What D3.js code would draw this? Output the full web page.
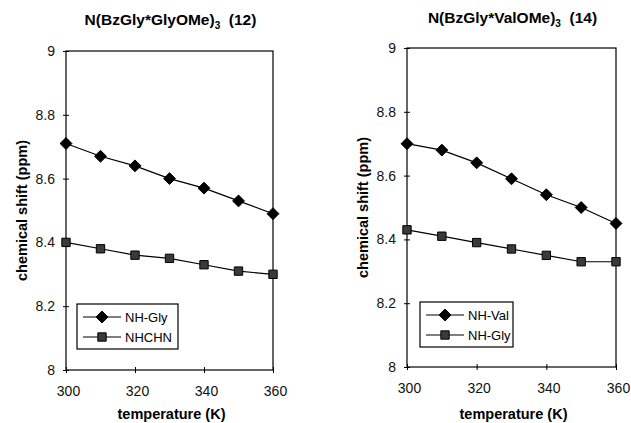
<!DOCTYPE html>
<html>
<head>
<meta charset="utf-8">
<script src="https://cdn.jsdelivr.net/npm/d3@7"></script>
<style>
  body { margin: 0; background: #fff; }
  svg { font-family: "Liberation Sans", Arial, sans-serif; }
  .tick text { font-size: 14px; fill: #111; }
</style>
</head>
<body>
<div id="chart"></div>
<script>
var temps = [300, 310, 320, 330, 340, 350, 360];

// panel 12: N(BzGly*GlyOMe)3
var glyNH = [8.71, 8.67, 8.64, 8.60, 8.57, 8.53, 8.49];
var glyNHCHN = [8.40, 8.38, 8.36, 8.35, 8.33, 8.31, 8.30];

// panel 14: N(BzGly*ValOMe)3
var valNH = [8.70, 8.68, 8.64, 8.59, 8.54, 8.50, 8.45];
var valNHGly = [8.43, 8.41, 8.39, 8.37, 8.35, 8.33, 8.33];

var xTicks = [300, 320, 340, 360];
var yTicks = [8, 8.2, 8.4, 8.6, 8.8, 9];

var w_width = 631, w_height = 423;

var svg = d3.select("#chart").append("svg")
    .attr("width", w_width).attr("height", w_height);

function panel(opt) {
  var x = d3.scaleLinear().domain([300, 360]).range([opt.left, opt.right]),
      y = d3.scaleLinear().domain([8, 9]).range([opt.bottom, opt.top]);

  var g = svg.append("g");

  // frame
  g.append("rect")
      .attr("x", opt.left).attr("y", opt.top)
      .attr("width", opt.right - opt.left).attr("height", opt.bottom - opt.top)
      .attr("fill", "none").attr("stroke", "#000").attr("stroke-width", 1.2);

  var yAxis = d3.axisLeft(y).tickValues(yTicks).tickSizeInner(3).tickSizeOuter(0)
      .tickPadding(8).tickFormat(d3.format("~g"));
  var ya = g.append("g")
      .attr("transform", "translate(" + opt.left + ",0)")
      .call(yAxis)
      .call(function(s) { s.select(".domain").remove(); });
  ya.selectAll(".tick line").attr("x2", -3).attr("x1", 3);

  var xAxis = d3.axisBottom(x).tickValues(xTicks).tickSizeInner(3).tickSizeOuter(0).tickPadding(13);
  var xa = g.append("g")
      .attr("transform", "translate(0," + opt.bottom + ")")
      .call(xAxis)
      .call(function(s) { s.select(".domain").remove(); });
  xa.selectAll(".tick line").attr("y1", -3).attr("y2", 3);
  xa.selectAll(".tick text").attr("dx", 2);

  // titles
  var t = g.append("text")
      .attr("x", (opt.left + opt.right) / 2 + 1).attr("y", opt.titleY)
      .attr("text-anchor", "middle")
      .style("font-size", "15.5px").style("font-weight", "bold");
  t.append("tspan").text(opt.titleA);
  t.append("tspan").text("3").attr("dy", 4).style("font-size", "10px");
  t.append("tspan").text("\u00a0 " + opt.titleB).attr("dy", -4);

  g.append("text")
      .attr("x", (opt.left + opt.right) / 2 + 2).attr("y", 419)
      .attr("text-anchor", "middle")
      .style("font-size", "14.5px").style("font-weight", "bold")
      .text("temperature (K)");

  g.append("text")
      .attr("transform", "translate(" + (opt.left - 39) + "," + ((opt.top + opt.bottom) / 2) + ") rotate(-90)")
      .attr("text-anchor", "middle")
      .style("font-size", "14.5px").style("font-weight", "bold")
      .text("chemical shift (ppm)");

  var line = d3.line()
      .x(function(d, i) { return x(temps[i]); })
      .y(function(d) { return y(d); });

  var diamond = d3.symbol().type(d3.symbolDiamond2).size(90),
      square = d3.symbol().type(d3.symbolSquare).size(70);

  function draw(vals, kind) {
    g.append("path").datum(vals)
        .attr("d", line)
        .attr("fill", "none").attr("stroke", "#000").attr("stroke-width", 1.2);
    g.selectAll(null).data(vals).enter().append("path")
        .attr("transform", function(d, i) { return "translate(" + x(temps[i]) + "," + y(d) + ")"; })
        .attr("d", kind == "d" ? diamond : square)
        .attr("fill", kind == "d" ? "#000" : "#3a3a3a")
        .attr("stroke", "#000").attr("stroke-width", 1);
  }
  draw(opt.s1, "d");
  draw(opt.s2, "s");

  // legend
  var L = opt.legend;
  g.append("rect")
      .attr("x", L.x).attr("y", L.y).attr("width", L.w).attr("height", 45)
      .attr("fill", "#fff").attr("stroke", "#000").attr("stroke-width", 1.2);
  [[opt.n1, "d"], [opt.n2, "s"]].forEach(function(e, i) {
    var ly = L.y + 13 + i * 20;
    g.append("line")
        .attr("x1", L.x + 6).attr("x2", L.x + 44).attr("y1", ly).attr("y2", ly)
        .attr("stroke", "#000").attr("stroke-width", 1.2);
    g.append("path")
        .attr("transform", "translate(" + (L.x + 25) + "," + ly + ")")
        .attr("d", e[1] == "d" ? diamond : square)
        .attr("fill", e[1] == "d" ? "#000" : "#3a3a3a").attr("stroke", "#000");
    g.append("text")
        .attr("x", L.x + 48).attr("y", ly + 5)
        .style("font-size", "13px")
        .text(e[0]);
  });
}

panel({left: 66, right: 273, top: 51, bottom: 370, titleY: 25,
       titleA: "N(BzGly*GlyOMe)", titleB: "(12)",
       s1: glyNH, s2: glyNHCHN, n1: "NH-Gly", n2: "NHCHN",
       legend: {x: 77, y: 304, w: 101}});

panel({left: 407, right: 616, top: 48, bottom: 367, titleY: 23,
       titleA: "N(BzGly*ValOMe)", titleB: "(14)",
       s1: valNH, s2: valNHGly, n1: "NH-Val", n2: "NH-Gly",
       legend: {x: 420, y: 302, w: 93}});
</script>
</body>
</html>
